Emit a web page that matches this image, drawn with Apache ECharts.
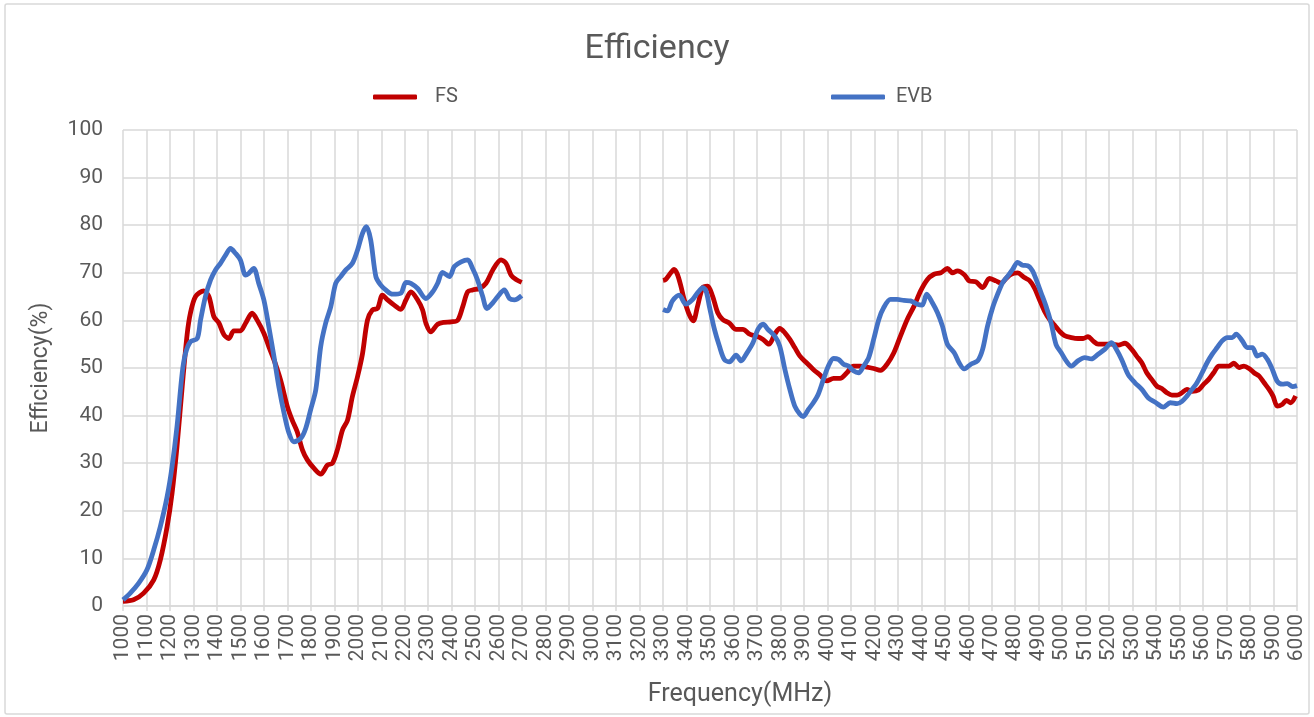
<!DOCTYPE html>
<html>
<head>
<meta charset="utf-8">
<script src="https://cdn.jsdelivr.net/npm/echarts@6/dist/echarts.min.js"></script>
<style>
html,body{margin:0;padding:0;background:#fff;}
#chart{width:1314px;height:717px;}
</style>
</head>
<body>
<div id="chart"></div>
<script>
const chartTitle = 'Efficiency';
const seriesNames = ['FS', 'EVB'];
const xAxisName = 'Frequency(MHz)';
const yAxisName = 'Efficiency(%)';

// FS series (null = gap in measurement)
const fsFreq = [1000,1045,1088,1131,1159,1188,1209,1230,1252,1273,1287,1309,1344,1366,1387,1408,1430,1451,1472,1500,1522,1550,1572,1600,1621,1643,1671,1700,1721,1742,1764,1785,1814,1842,1871,1892,1913,1935,1956,1977,1999,2020,2041,2062,2084,2105,2127,2155,2183,2205,2226,2255,2276,2290,2311,2340,2368,2397,2425,2447,2468,2489,2518,2546,2575,2610,2631,2653,2674,2698,
  3000,
  3300,3311,3333,3347,3361,3376,3390,3411,3429,3447,3469,3490,3511,3533,3554,3583,3611,3640,3669,3697,3726,3751,3776,3797,3819,3840,3861,3883,3911,3940,3969,3997,4026,4054,4083,4111,4140,4169,4197,4226,4254,4283,4311,4340,4369,4397,4426,4454,4483,4511,4533,4554,4583,4604,4633,4661,4690,4718,4740,4761,4782,4810,4839,4860,4881,4903,4924,4946,4967,4989,5010,5039,5067,5089,5110,5131,5153,5181,5210,5239,5267,5296,5317,5339,5360,5381,5403,5424,5446,5467,5489,5510,5531,5553,5581,5603,5624,5645,5667,5688,5710,5731,5753,5774,5796,5817,5839,5860,5881,5898,5916,5938,5955,5973,5994];
const fsEff = [1.0,1.3,2.7,5.5,9.7,16.7,23.7,33.5,46,57,61.5,65,66.2,65,60.8,59.5,57,56.2,57.8,57.8,59.4,61.5,60,57.3,54.5,51.7,47.5,41.9,39,36.6,32.8,30.7,28.9,27.7,29.6,30,32.8,37,39,44,48.2,53,60,62.2,62.5,65.3,64.3,63.2,62.3,64.3,66,64.3,62.2,59.4,57.6,59.2,59.6,59.7,60,62.9,66,66.4,66.7,67.8,70.6,72.7,72,69.5,68.6,68,
  null,
  68.4,68.6,70,70.7,69.7,67.2,64.4,61.3,59.9,63,66.9,67.2,65.1,61.6,60.2,59.4,58.1,58.1,57.1,56.7,56,55,57.1,58.3,57.4,56,54.3,52.5,51.1,49.7,48.5,47.3,47.8,47.8,49,50.4,50.4,50.2,49.9,49.5,50.8,53.2,56.7,60.2,63,66.2,68.6,69.7,70,70.9,70,70.4,69.6,68.3,68.1,66.9,68.8,68.3,67.8,68.8,69.7,70,69,68.4,66.9,64.4,62,60.2,59,57.7,56.8,56.4,56.2,56.2,56.6,55.7,55,55,55,54.8,55.2,53.9,52.5,51.1,49,47.6,46.2,45.7,44.8,44.3,44.3,44.8,45.5,45.1,45.4,46.6,47.6,49,50.4,50.4,50.4,51,50.1,50.4,49.9,49,48.3,46.9,45.5,44.1,42,42.4,43.2,42.7,44.1];

// EVB series
const evbFreq = [1000,1031,1067,1102,1131,1159,1188,1209,1230,1252,1266,1287,1316,1330,1351,1373,1394,1415,1437,1458,1479,1500,1522,1536,1557,1578,1600,1621,1643,1664,1686,1707,1728,1757,1778,1799,1821,1842,1863,1885,1906,1927,1949,1977,1999,2020,2037,2055,2077,2098,2119,2148,2183,2205,2226,2255,2290,2319,2340,2361,2390,2411,2440,2468,2489,2510,2532,2550,2575,2596,2624,2646,2667,2698,
  3000,
  3300,3319,3340,3369,3397,3426,3447,3469,3483,3497,3519,3540,3561,3583,3611,3633,3654,3683,3704,3726,3747,3776,3797,3819,3840,3861,3883,3897,3919,3940,3961,3983,4004,4026,4047,4069,4090,4111,4133,4154,4176,4197,4219,4240,4269,4297,4326,4354,4383,4404,4423,4447,4469,4490,4511,4540,4561,4583,4611,4640,4661,4682,4704,4725,4746,4768,4789,4810,4831,4853,4874,4889,4910,4931,4953,4974,4996,5017,5039,5067,5096,5124,5153,5181,5210,5231,5253,5281,5310,5339,5367,5396,5431,5460,5489,5510,5531,5553,5574,5596,5617,5639,5660,5681,5703,5724,5741,5767,5788,5810,5831,5852,5874,5895,5916,5938,5959,5981,6000];
const evbEff = [1.3,2.7,4.8,7.6,11.8,16.7,23,29.3,37.7,48.9,53,55.5,56.2,60,65,68.5,70.6,72,73.7,75.1,74.1,72.7,69.5,69.9,70.9,67.8,64.3,58.7,52.4,46,40.5,36.3,34.5,35.2,37.3,41.2,45.4,54.5,59.4,62.9,67.8,69.2,70.6,72,74.8,78.3,79.7,76.9,69.2,67.4,66.4,65.5,65.7,68,67.8,66.7,64.6,66,67.8,70.1,69.2,71.3,72.3,72.7,70.9,68.5,65,62.5,63.7,65,66.4,64.6,64.3,65.2,
  null,
  62.3,62,64.1,65.3,63.4,64.4,65.8,66.9,66.2,63,58.1,54.6,51.8,51.3,52.7,51.5,52.9,55.3,58.1,59.2,58.1,56.7,54.6,49.7,45.5,42,40.3,39.8,41.3,42.7,44.5,47.6,50.4,52,51.8,50.8,50.4,49.4,49,50.4,52.2,56,60.2,62.7,64.4,64.4,64.2,64.1,63.4,63.2,65.5,63.7,61.6,58.8,55,53.2,51.1,49.8,50.8,51.5,53.9,58.8,62.7,65.5,67.9,69.3,70.7,72.2,71.6,71.5,70.4,68.6,65.8,63,59.4,54.9,53.2,51.5,50.4,51.5,52.2,51.9,52.9,53.9,55.3,53.9,51.8,48.6,46.9,45.5,43.7,42.8,41.8,42.7,42.5,43,44.1,45.5,46.9,49,51.1,52.9,54.3,55.7,56.4,56.4,57.1,55.7,54.3,54.3,52.5,52.9,51.8,49.7,47.2,46.6,46.7,46.1,46.3];

const xMin = 1000, xMax = 6000, xStep = 100;
const yMin = 0, yMax = 100, yStep = 10;

function pairs(xs, ys) {
  return xs.map((x, i) => [x, ys[i] === null ? '-' : ys[i]]);
}

const FONT = 'Roboto, "Noto Sans", sans-serif';
const TXT = '#595959';
const GRID = '#d9d9d9';

const chart = echarts.init(document.getElementById('chart'), null, {renderer: 'canvas'});
chart.setOption({
  animation: false,
  backgroundColor: '#fff',
  textStyle: {fontFamily: FONT},
  graphic: [{
    type: 'rect', silent: true,
    shape: {x: 5, y: 4, width: 1304, height: 710, r: 2},
    style: {fill: 'none', stroke: GRID, lineWidth: 1.5}
  }],
  title: {
    text: chartTitle, left: 'center', top: 27,
    textStyle: {fontFamily: FONT, fontSize: 34, fontWeight: 'normal', color: TXT}
  },
  legend: [
    {data: [seriesNames[0]], left: 368, top: 82, itemWidth: 44, itemHeight: 5, icon: 'roundRect',
     textStyle: {fontFamily: FONT, fontSize: 20, color: TXT, padding: [0, 0, 0, 13]}},
    {data: [seriesNames[1]], left: 826, top: 82, itemWidth: 54, itemHeight: 5, icon: 'roundRect',
     textStyle: {fontFamily: FONT, fontSize: 20, color: TXT, padding: [0, 0, 0, 6]}}
  ],
  grid: {left: 123, right: 17, top: 130, bottom: 111, containLabel: false},
  xAxis: {
    type: 'value', min: xMin, max: xMax, interval: xStep,
    name: xAxisName, nameLocation: 'middle', nameGap: 76,
    nameTextStyle: {fontFamily: FONT, fontSize: 25, color: TXT, padding: [0, 0, 0, 60]},
    axisLine: {show: true, lineStyle: {color: GRID, width: 1.5}},
    axisTick: {show: true, length: 5, lineStyle: {color: GRID, width: 1.5}},
    axisLabel: {rotate: 90, fontSize: 21, color: TXT, fontFamily: FONT, margin: 8,
      showMinLabel: true, showMaxLabel: true, hideOverlap: false,
      formatter: v => String(v)},
    splitLine: {show: true, lineStyle: {color: GRID, width: 1.5}}
  },
  yAxis: {
    type: 'value', min: yMin, max: yMax, interval: yStep,
    name: yAxisName, nameLocation: 'middle', nameGap: 70, nameRotate: 90,
    nameTextStyle: {fontFamily: FONT, fontSize: 23, color: TXT},
    axisLine: {show: false},
    axisTick: {show: false},
    axisLabel: {fontSize: 21, color: TXT, fontFamily: FONT, margin: 20},
    splitLine: {show: true, lineStyle: {color: GRID, width: 1.5}}
  },
  series: [
    {name: seriesNames[0], type: 'line', data: pairs(fsFreq, fsEff), smooth: 0.3, showSymbol: false, symbol: 'none',
     connectNulls: false, lineStyle: {color: '#C00000', width: 4.8}, itemStyle: {color: '#C00000'}, z: 2},
    {name: seriesNames[1], type: 'line', data: pairs(evbFreq, evbEff), smooth: 0.3, showSymbol: false, symbol: 'none',
     connectNulls: false, lineStyle: {color: '#4472C4', width: 4.8}, itemStyle: {color: '#4472C4'}, z: 3}
  ]
});
</script>
</body>
</html>
